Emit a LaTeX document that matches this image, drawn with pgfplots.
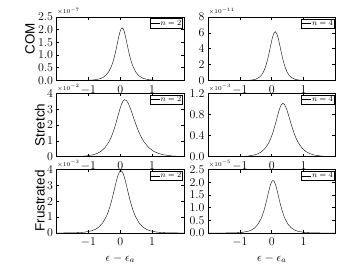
\documentclass[border=0pt]{standalone}
\usepackage{fontspec}
\newfontfamily\helv{Liberation Sans}
\usepackage{pgfplots}
\pgfplotsset{compat=1.18}
\pgfplotsset{
 panel/.style={
  scale only axis, width=127.5bp, height=63.5bp,
  xmin=-2, xmax=2, xtick={-1,0,1}, ymin=0,
  scaled ticks=false,
  tick align=inside, major tick length=3bp,
  every tick/.style={black, line width=0.6bp},
  axis line style={line width=0.9bp},
  ticklabel style={font=\fontsize{12}{12}\selectfont},
  xticklabel style={yshift=-1.5bp},
  clip=false,
  cycle list={{black, line width=1.05bp, smooth, no marks}},
  legend image code/.code={\draw[#1] (0bp,0bp) -- (9bp,0bp);},
  legend style={at={(rel axis cs:1,1)}, anchor=north east, xshift=-1bp, yshift=-1.5bp,
    draw=black, line width=0.6bp, font=\fontsize{8.5}{8.5}\selectfont,
    inner sep=0.5bp, nodes={inner sep=0.8bp}},
 },
}
\newcommand{\mult}[2]{\node[anchor=south west, inner sep=0pt, font=\fontsize{6.5}{6.5}\selectfont] at (#1) {$\times10^{#2}$};}
\begin{document}
\begin{tikzpicture}[x=1bp,y=1bp]
\path[use as bounding box] (0,0) rectangle (360,270);
% ---------- top row ----------
\begin{axis}[panel, at={(56.5bp,189.5bp)}, anchor=south west, ymax=2.5,
  ytick={0,0.5,1,1.5,2,2.5}, yticklabels={0.0,0.5,1.0,1.5,2.0,2.5}]
\addplot coordinates {(-2,0) (-1.30,0.0014) (-1.13,0.0038) (-0.96,0.0103) (-0.79,0.0279) (-0.62,0.0758) (-0.535,0.125) (-0.45,0.206) (-0.365,0.338) (-0.28,0.550) (-0.2375,0.698) (-0.195,0.880) (-0.1525,1.096) (-0.11,1.342) (-0.076,1.548) (-0.042,1.746) (-0.008,1.915) (0.026,2.029) (0.06,2.07) (0.094,2.029) (0.128,1.915) (0.162,1.746) (0.196,1.548) (0.23,1.342) (0.2725,1.096) (0.315,0.880) (0.3575,0.698) (0.40,0.550) (0.485,0.338) (0.57,0.206) (0.655,0.125) (0.74,0.0758) (0.91,0.0279) (1.08,0.0103) (1.25,0.0038) (1.42,0.0014) (2,0)};
\addlegendentry{$n=2$}
\end{axis}
\begin{axis}[panel, at={(208bp,189.5bp)}, anchor=south west, ymax=8,
  ytick={0,2,4,6,8}]
\addplot coordinates {(-2,0) (-1.11,0.0011) (-0.866,0.0082) (-0.744,0.0224) (-0.622,0.0606) (-0.50,0.164) (-0.378,0.435) (-0.317,0.700) (-0.256,1.111) (-0.195,1.724) (-0.134,2.583) (-0.085,3.438) (-0.036,4.377) (0.012,5.262) (0.061,5.910) (0.11,6.15) (0.159,5.910) (0.208,5.262) (0.256,4.377) (0.305,3.438) (0.354,2.583) (0.415,1.724) (0.476,1.111) (0.537,0.700) (0.598,0.435) (0.72,0.164) (0.842,0.0606) (0.964,0.0224) (1.086,0.0082) (1.33,0.0011) (2,0)};
\addlegendentry{$n=4$}
\end{axis}
% ---------- middle row ----------
\begin{axis}[panel, at={(56.5bp,113.2bp)}, anchor=south west, ymax=4,
  ytick={0,1,2,3,4}]
\addplot coordinates {(-2,0.002) (-1.575,0.0066) (-1.33,0.0179) (-1.085,0.0485) (-0.84,0.132) (-0.7175,0.217) (-0.595,0.357) (-0.4725,0.587) (-0.35,0.957) (-0.289,1.215) (-0.2275,1.530) (-0.166,1.906) (-0.105,2.333) (-0.056,2.692) (-0.007,3.037) (0.042,3.330) (0.091,3.529) (0.14,3.600) (0.200,3.529) (0.260,3.330) (0.320,3.037) (0.380,2.692) (0.440,2.333) (0.515,1.906) (0.590,1.530) (0.665,1.215) (0.74,0.957) (0.89,0.587) (1.04,0.357) (1.19,0.217) (1.34,0.132) (1.64,0.0485) (1.94,0.0179) (2,0.0146)};
\addlegendentry{$n=2$}
\end{axis}
\begin{axis}[panel, at={(208bp,113.2bp)}, anchor=south west, ymax=1.2,
  ytick={0,0.4,0.8,1.2}, yticklabels={0.0,0.4,0.8,1.2}]
\addplot coordinates {(-2,0) (-1.19,0.0018) (-0.97,0.0050) (-0.75,0.0136) (-0.53,0.0370) (-0.42,0.0609) (-0.31,0.100) (-0.20,0.165) (-0.09,0.268) (-0.035,0.341) (0.02,0.429) (0.075,0.535) (0.13,0.655) (0.174,0.755) (0.218,0.852) (0.262,0.934) (0.306,0.990) (0.35,1.010) (0.398,0.990) (0.446,0.934) (0.494,0.852) (0.542,0.755) (0.59,0.655) (0.65,0.535) (0.71,0.429) (0.77,0.341) (0.83,0.268) (0.95,0.165) (1.07,0.100) (1.19,0.0609) (1.31,0.0370) (1.55,0.0136) (1.79,0.0050) (2,0.0021)};
\addlegendentry{$n=4$}
\end{axis}
% ---------- bottom row ----------
\begin{axis}[panel, at={(56.5bp,37bp)}, anchor=south west, ymax=4,
  ytick={0,1,2,3,4}]
\addplot coordinates {(-2,0.0011) (-1.804,0.0026) (-1.576,0.0072) (-1.348,0.0195) (-1.12,0.0530) (-0.892,0.144) (-0.778,0.237) (-0.664,0.390) (-0.55,0.641) (-0.436,1.045) (-0.379,1.326) (-0.322,1.671) (-0.265,2.081) (-0.208,2.547) (-0.162,2.938) (-0.117,3.315) (-0.071,3.635) (-0.026,3.853) (0.02,3.93) (0.066,3.853) (0.111,3.635) (0.157,3.315) (0.202,2.938) (0.248,2.547) (0.305,2.081) (0.362,1.671) (0.419,1.326) (0.476,1.045) (0.59,0.641) (0.704,0.390) (0.818,0.237) (0.932,0.144) (1.16,0.0530) (1.388,0.0195) (1.616,0.0072) (1.844,0.0026) (2,0.0013)};
\addlegendentry{$n=2$}
\end{axis}
\begin{axis}[panel, at={(208bp,37bp)}, anchor=south west, ymax=2.5,
  ytick={0,0.5,1,1.5,2,2.5}, yticklabels={0.0,0.5,1.0,1.5,2.0,2.5}]
\addplot coordinates {(-2,0) (-1.48,0.0014) (-1.29,0.0038) (-1.10,0.0103) (-0.91,0.0279) (-0.72,0.0758) (-0.625,0.125) (-0.53,0.206) (-0.435,0.338) (-0.34,0.550) (-0.2925,0.698) (-0.245,0.880) (-0.1975,1.096) (-0.15,1.342) (-0.112,1.548) (-0.074,1.746) (-0.036,1.915) (0.002,2.029) (0.04,2.07) (0.078,2.029) (0.116,1.915) (0.154,1.746) (0.192,1.548) (0.23,1.342) (0.2775,1.096) (0.325,0.880) (0.3725,0.698) (0.42,0.550) (0.515,0.338) (0.61,0.206) (0.705,0.125) (0.80,0.0758) (0.99,0.0279) (1.18,0.0103) (1.37,0.0038) (1.56,0.0014) (2,0)};
\addlegendentry{$n=4$}
\end{axis}
% ---------- offset texts ----------
\mult{57,255}{-7}
\mult{208.5,255}{-11}
\mult{57,178.7}{-2}
\mult{208.5,178.7}{-3}
\mult{57,102.5}{-3}
\mult{208.5,102.5}{-5}
% ---------- row labels ----------
\node[rotate=90, anchor=south, inner sep=0pt, font=\helv\fontsize{13.5}{13.5}\selectfont] at (35,231) {COM};
\node[rotate=90, anchor=south, inner sep=0pt, font=\helv\fontsize{13.5}{13.5}\selectfont] at (45,145) {Stretch};
\node[rotate=90, anchor=south, inner sep=0pt, font=\helv\fontsize{13.5}{13.5}\selectfont] at (45,69) {Frustrated};
% ---------- x labels ----------
\node[anchor=base, inner sep=0pt, font=\fontsize{12}{12}\selectfont] at (120.25,9) {$\epsilon - \epsilon_a$};
\node[anchor=base, inner sep=0pt, font=\fontsize{12}{12}\selectfont] at (271.75,9) {$\epsilon - \epsilon_a$};
\end{tikzpicture}
\end{document}
